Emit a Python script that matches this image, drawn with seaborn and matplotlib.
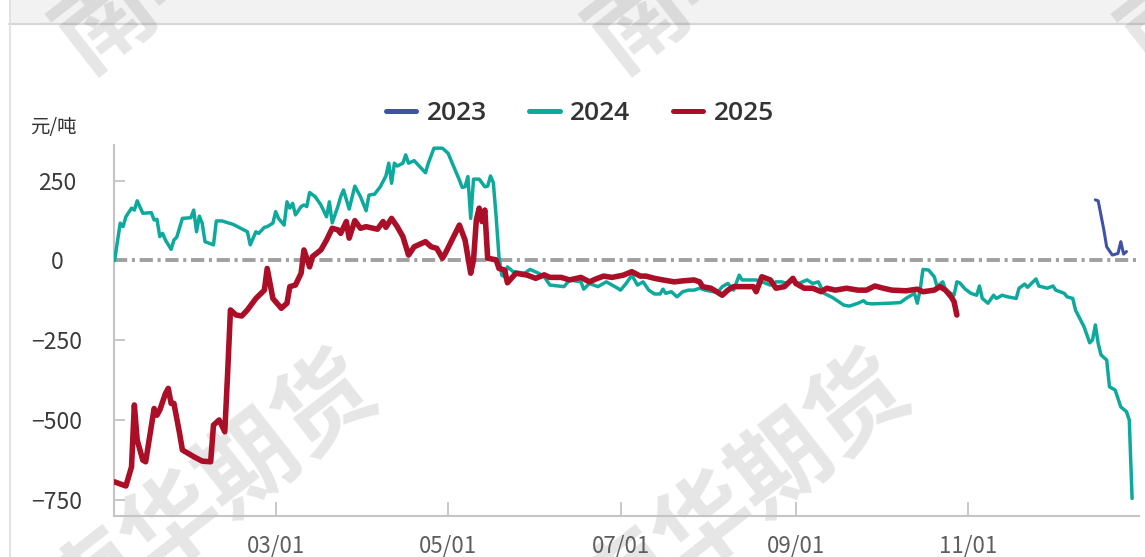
import matplotlib
matplotlib.use("Agg")
import matplotlib.pyplot as plt
from matplotlib.lines import Line2D
from matplotlib.patches import Rectangle
import seaborn as sns
import pandas as pd

# ---------------- data ----------------
dates_2023 = ["12-16", "12-17", "12-19", "12-20", "12-22", "12-24", "12-25", "12-26", "12-27"]
vals_2023 = [190, 187, 96, 43, 17, 22, 59, 20, 28]

dates_2024 = [
    "01-03", "01-05", "01-06", "01-07", "01-09", "01-10", "01-11", "01-13", "01-16", "01-17",
    "01-18", "01-19", "01-20", "01-21", "01-23", "01-24", "01-25", "01-27", "01-30", "01-31",
    "02-01", "02-02", "02-03", "02-04", "02-07", "02-08", "02-10", "02-14", "02-19", "02-20",
    "02-22", "02-23", "02-25", "02-26", "02-28", "03-01", "03-02", "03-04", "03-05", "03-06",
    "03-07", "03-08", "03-10", "03-11", "03-12", "03-13", "03-15", "03-17", "03-19", "03-20",
    "03-21", "03-23", "03-24", "03-25", "03-27", "03-29", "03-31", "04-02", "04-03", "04-05",
    "04-07", "04-09", "04-10", "04-11", "04-12", "04-13", "04-15", "04-16", "04-17", "04-19",
    "04-21", "04-23", "04-24", "04-26", "04-29", "05-01", "05-03", "05-05", "05-06", "05-07",
    "05-08", "05-09", "05-10", "05-12", "05-14", "05-15", "05-16", "05-17", "05-18", "05-19",
    "05-20", "05-21", "05-22", "05-24", "05-28", "05-30", "06-02", "06-04", "06-06", "06-11",
    "06-13", "06-17", "06-18", "06-20", "06-23", "06-26", "06-30", "07-01", "07-03", "07-05",
    "07-07", "07-09", "07-11", "07-13", "07-15", "07-16", "07-17", "07-19", "07-21", "07-23",
    "07-25", "07-27", "07-29", "07-31", "08-03", "08-05", "08-06", "08-08", "08-10", "08-12",
    "08-13", "08-15", "08-18", "08-20", "08-23", "08-25", "08-27", "08-29", "08-31", "09-02",
    "09-05", "09-07", "09-09", "09-11", "09-14", "09-18", "09-20", "09-23", "09-25", "09-26",
    "09-28", "10-04", "10-08", "10-10", "10-13", "10-14", "10-15", "10-16", "10-18", "10-20",
    "10-21", "10-23", "10-24", "10-27", "10-28", "10-29", "10-31", "11-02", "11-04", "11-05",
    "11-06", "11-08", "11-10", "11-11", "11-13", "11-15", "11-18", "11-19", "11-21", "11-22",
    "11-25", "11-26", "11-29", "12-01", "12-02", "12-05", "12-06", "12-08", "12-09", "12-12",
    "12-14", "12-15", "12-16", "12-17", "12-18", "12-20", "12-21", "12-23", "12-25", "12-27",
    "12-28", "12-29",
]
vals_2024 = [
    0, 117, 106, 137, 164, 158, 187, 148, 150, 127,
    129, 75, 85, 64, 35, 64, 73, 132, 134, 158,
    90, 139, 117, 59, 49, 124, 124, 113, 90, 49,
    90, 85, 104, 106, 117, 153, 132, 111, 184, 164,
    179, 143, 169, 174, 169, 213, 200, 174, 137, 184,
    118, 169, 200, 221, 161, 233, 200, 156, 205, 208,
    231, 265, 305, 242, 305, 296, 305, 331, 305, 313,
    294, 275, 305, 352, 352, 336, 294, 252, 229, 231,
    263, 132, 255, 255, 231, 233, 265, 244, 137, 12,
    -46, -51, -20, -35, -40, -28, -40, -51, -77, -82,
    -61, -67, -90, -72, -82, -67, -87, -93, -72, -46,
    -77, -67, -93, -105, -105, -90, -103, -98, -114, -98,
    -93, -93, -87, -93, -98, -93, -82, -72, -93, -46,
    -61, -61, -61, -67, -77, -67, -67, -72, -61, -72,
    -61, -72, -67, -103, -116, -140, -143, -134, -126, -134,
    -136, -134, -132, -119, -103, -134, -93, -28, -30, -51,
    -82, -67, -93, -109, -67, -70, -90, -103, -109, -80,
    -119, -134, -109, -119, -109, -114, -119, -87, -74, -84,
    -58, -80, -87, -80, -93, -103, -114, -119, -156, -208,
    -258, -249, -202, -260, -296, -312, -396, -406, -459, -474,
    -500, -746,
]

dates_2025 = [
    "01-03", "01-07", "01-09", "01-10", "01-11", "01-13", "01-14", "01-16", "01-17", "01-18",
    "01-19", "01-21", "01-22", "01-23", "01-24", "01-26", "01-27", "01-31", "02-03", "02-06",
    "02-07", "02-09", "02-11", "02-12", "02-13", "02-15", "02-17", "02-19", "02-22", "02-25",
    "02-26", "02-28", "03-03", "03-05", "03-06", "03-08", "03-10", "03-11", "03-13", "03-14",
    "03-17", "03-19", "03-21", "03-23", "03-24", "03-26", "03-27", "03-29", "03-31", "04-02",
    "04-06", "04-08", "04-09", "04-11", "04-13", "04-15", "04-17", "04-19", "04-23", "04-25",
    "04-27", "04-29", "04-30", "05-03", "05-05", "05-07", "05-09", "05-10", "05-11", "05-12",
    "05-13", "05-14", "05-15", "05-18", "05-19", "05-21", "05-22", "05-25", "05-29", "06-01",
    "06-04", "06-06", "06-10", "06-13", "06-17", "06-20", "06-22", "06-25", "06-28", "07-02",
    "07-05", "07-08", "07-10", "07-13", "07-16", "07-20", "07-23", "07-27", "07-29", "07-30",
    "08-02", "08-04", "08-06", "08-08", "08-10", "08-13", "08-17", "08-18", "08-20", "08-23",
    "08-25", "08-28", "08-31", "09-01", "09-04", "09-07", "09-10", "09-12", "09-15", "09-19",
    "09-23", "09-26", "09-29", "10-02", "10-05", "10-10", "10-14", "10-16", "10-20", "10-22",
    "10-24", "10-26", "10-27", "10-28",
]
vals_2025 = [
    -694, -707, -647, -453, -563, -626, -631, -521, -464, -485,
    -469, -417, -401, -448, -448, -542, -594, -615, -629, -631,
    -516, -500, -537, -354, -155, -171, -174, -155, -119, -93,
    -25, -119, -150, -134, -82, -77, -40, 33, -20, 12,
    33, 64, 101, 96, 85, 122, 70, 125, 101, 106,
    98, 122, 104, 132, 106, 75, 17, 43, 59, 43,
    38, 7, 22, 75, 111, 64, -40, 2, 127, 164,
    122, 158, 7, 2, -25, -30, -70, -40, -46, -56,
    -45, -53, -53, -61, -53, -67, -59, -49, -53, -46,
    -35, -49, -49, -56, -61, -67, -64, -61, -67, -82,
    -87, -98, -109, -93, -82, -82, -82, -98, -51, -61,
    -87, -82, -56, -72, -87, -87, -98, -87, -93, -87,
    -93, -93, -80, -87, -93, -95, -90, -98, -93, -82,
    -93, -114, -129, -171,
]

series_names = ["2023", "2024", "2025"]
tick_dates = ["03-01", "05-01", "07-01", "09-01", "11-01"]
tick_labels = ["03/01", "05/01", "07/01", "09/01", "11/01"]
y_ticks = [250, 0, -250, -500, -750]
unit_label = "元/吨"
watermark = "南华期货"

colors = {"2023": "#3F52A6", "2024": "#0EA99D", "2025": "#AB0F28"}
widths = {"2023": 2.2, "2024": 2.5, "2025": 4.0}

# ---------------- helpers ----------------
def to_day(mmdd):
    d = pd.to_datetime("2025-" + pd.Series(mmdd))
    return (d - pd.Timestamp("2025-01-01")).dt.days.to_numpy()

frames = []
for name, dts, vals in [("2023", dates_2023, vals_2023),
                        ("2024", dates_2024, vals_2024),
                        ("2025", dates_2025, vals_2025)]:
    frames.append(pd.DataFrame({"day": to_day(dts), "value": vals, "year": name}))
df = pd.concat(frames, ignore_index=True)

# ---------------- figure ----------------
sns.set_theme(style="white")
plt.rcParams["font.family"] = ["Noto Sans CJK SC", "DejaVu Sans"]
plt.rcParams["axes.unicode_minus"] = True

W, H = 1145, 557
fig = plt.figure(figsize=(W / 100, H / 100), dpi=100)
fig.patch.set_facecolor("white")

def fx(px):
    return px / W

def fy(py):
    return 1 - py / H

# card header and border
fig.add_artist(Rectangle((fx(9), fy(23)), 1, 23 / H, transform=fig.transFigure,
                         facecolor="#F2F2F2", edgecolor="none", zorder=-3))
fig.add_artist(Line2D([fx(9), 1], [fy(24), fy(24)], transform=fig.transFigure,
                      color="#D6D6D6", lw=1.6, zorder=-2))
fig.add_artist(Line2D([fx(9.5), fx(9.5)], [0, 1], transform=fig.transFigure,
                      color="#DEDEDE", lw=1.2, zorder=-2))

# watermarks
for cx, cy in [(212, 494), (745, 494), (222, -69), (755, -69), (1288, -69)]:
    fig.text(fx(cx), fy(cy), watermark, rotation=38, rotation_mode="anchor",
             ha="center", va="center", fontsize=70, fontweight="bold",
             color="black", alpha=0.10, zorder=-1)

left, right, top, bottom = 114, 1138.6, 145, 516
ax = fig.add_axes([fx(left), fy(bottom), (right - left) / W, (bottom - top) / H])
ax.patch.set_alpha(0)

ax.axhline(0, color="#A0A0A0", lw=2.8, ls=(0, (3.4, 1.2, 0.8, 1.2)), zorder=1.5)

for i, name in enumerate(series_names):
    sub = df[df["year"] == name]
    sns.lineplot(data=sub, x="day", y="value", ax=ax, color=colors[name],
                 lw=widths[name], estimator=None, sort=False, legend=False,
                 zorder=2 + i)

ax.set_xlim(1.8, 364.3)
ax.set_ylim(-801, 362)
ax.set_xticks(to_day(tick_dates))
ax.set_xticklabels(tick_labels)
ax.set_yticks(y_ticks)
ax.set_yticklabels([f"{v}".replace("-", "\u2212") for v in y_ticks], ha="center")
ax.set_xlabel("")
ax.set_ylabel("")

ax.tick_params(axis="y", direction="in", length=8, width=1.3, color="#C4C4C4",
               pad=41, labelsize=16.5, labelcolor="#3A3A3A", left=True)
ax.tick_params(axis="x", direction="in", length=10, width=1.3, color="#C4C4C4",
               pad=13, labelsize=16, labelcolor="#5E5E5E", bottom=True)

for s in ["top", "right"]:
    ax.spines[s].set_visible(False)
for s in ["left", "bottom"]:
    ax.spines[s].set_color("#C4C4C4")
    ax.spines[s].set_linewidth(1.5)

fig.text(fx(53), fy(128), unit_label, ha="center", va="center",
         fontsize=14, color="#333333")

handles = [Line2D([], [], color=colors[n], lw=3.6) for n in series_names]
leg = fig.legend(handles, series_names, loc="center",
                 bbox_to_anchor=(fx(580), fy(114)), ncol=3, frameon=False,
                 prop={"family": ["Open Sans", "DejaVu Sans"], "size": 19,
                       "weight": "semibold"},
                 handlelength=1.15, handletextpad=0.4, columnspacing=1.6)
for t in leg.get_texts():
    t.set_color("#333333")

fig.savefig("out.png", dpi=100, facecolor="white")
